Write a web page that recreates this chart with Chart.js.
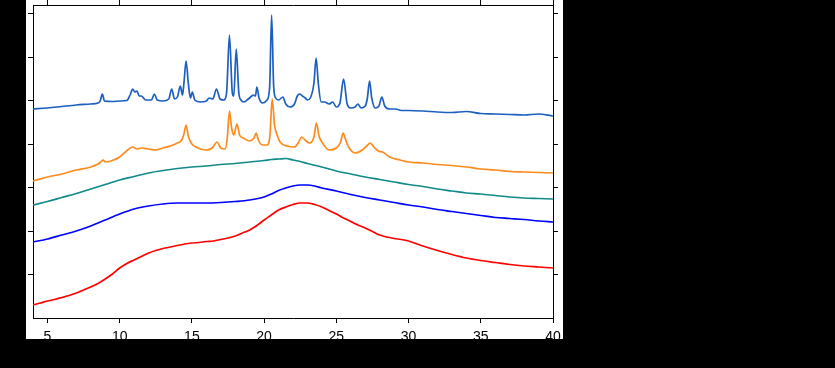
<!DOCTYPE html>
<html>
<head>
<meta charset="utf-8">
<script src="https://cdn.jsdelivr.net/npm/chart.js@4.4.1/dist/chart.umd.min.js"></script>
<style>
  html, body { margin: 0; padding: 0; background: #000; }
  canvas { display: block; }
</style>
</head>
<body>
<canvas id="xrd" width="835" height="368"></canvas>
<script>
// 2-theta (deg) vs intensity (a.u.)
const xTicks = [5, 10, 15, 20, 25, 30, 35, 40];
const yTicks = [43.5, 87, 130.5, 174, 217.5, 261, 304.5];

const redTrace = [[4,13],[4.5,15],[5,17],[5.5,18.5],[6,20.5],[6.5,22.5],[7,25],[7.5,28],[8,31],[8.5,34.5],
  [9,39],[9.5,44],[10,50],[10.5,54.5],[11,58],[11.5,61.5],[12,65],[12.5,67.5],[13,69.5],[13.5,71],
  [14,72.5],[14.5,74],[15,75],[15.5,75.5],[16,76.5],[16.5,77],[17,78.5],[17.5,80],[18,82],[18.5,85],
  [19,88],[19.5,92.5],[20,98],[20.5,103],[21,108],[21.5,111],[22,113.5],[22.5,115],[23,115],[23.5,113.5],
  [24,111],[24.5,107.5],[25,104],[25.5,100],[26,96.5],[26.5,93],[27,90],[27.5,86.5],[28,83],[28.5,81],
  [29,79.5],[29.5,78.5],[30,77],[31,72],[32,67.5],[33,63.5],[34,60],[35,57.5],[36,55.5],[37,53.5],
  [38,52],[39,51],[40,50]];

const blueTrace = [[4,76],[5,79],[6,83],[7,87],[8,92],[9,98],[10,104],[11,109],[12,112],[13,114],
  [14,115],[15,115],[16,115],[17,115.5],[18,116.5],[19,118],[20,121],[20.5,124],[21,127.5],[21.5,130],
  [22,132],[22.5,133],[23,133],[23.5,132],[24,130],[25,127],[26,123.5],[27,120.5],[28,118],[29,115.5],
  [30,113],[31,111],[32,108.5],[33,106.5],[34,104.5],[35,102.5],[36,100.5],[37,99.5],[38,98.5],[39,97],[40,96]];

const tealTrace = [[4,113],[5,116.5],[6,120.5],[7,124.5],[8,129],[9,133.5],[10,138],[11,141.5],[12,145],[13,147.5],
  [14,149.5],[15,151],[16,152],[17,153.5],[18,154.5],[19,156],[20,157.5],[20.5,158.5],[21,159],[21.5,159.5],
  [22,158],[22.5,156.5],[23,154.5],[24,151],[25,147],[26,144],[27,141],[28,138.5],[29,136],[30,133.5],
  [31,131.5],[32,129],[33,127],[34,125],[35,124],[36,122.5],[37,121],[38,120],[39,119.5],[40,119]];

const orangeTrace = [[4,137],[5,141],[6,144],[7,148],[8,151],[8.5,154],[8.7,156],[8.85,158],[9,156],[9.4,157],
  [10,161],[10.4,166],[10.9,171],[11.2,169],[11.5,170],[12,169],[12.5,168],[13,170],[13.5,172],[14,175],
  [14.3,178],[14.45,184],[14.6,193],[14.75,182],[15,174],[15.3,171],[15.6,169],[16,168],[16.4,170],[16.75,176],
  [17,170],[17.3,169],[17.45,180],[17.6,207],[17.75,190],[17.9,183],[18.12,194],[18.3,183],[18.56,180],[19,177],
  [19.3,180],[19.45,185],[19.6,178],[19.9,173],[20.2,173],[20.4,182],[20.56,219],[20.72,193],[20.9,183],[21.1,176],
  [21.6,172],[22.1,171],[22.4,176],[22.6,181],[22.9,177],[23.15,175],[23.45,181],[23.62,195],[23.8,182],[24,176],
  [24.5,168],[25,170],[25.3,176],[25.47,185],[25.65,178],[25.85,171],[26.3,165],[26.8,168],[27.1,172],[27.35,175],
  [27.6,171],[27.9,167],[28.2,166],[28.7,161],[29.4,158],[30,156],[31,155],[32,153.5],[33,152.5],[34,151],
  [35,149],[36,148],[37,146.5],[38,146],[39,145.5],[40,145]];

const crystTrace = [[4,209],[5,210],[6,211.5],[7,213],[8,214],[8.5,215],[8.65,217],[8.8,224],[8.95,217],[9.5,216.5],
  [10,217],[10.5,217.5],[10.75,224],[10.9,229],[11.05,226],[11.2,227],[11.35,222],[11.5,222],[11.8,218],[12.2,218],
  [12.4,224],[12.6,218],[13,217],[13.4,219],[13.6,229],[13.8,219],[14,221],[14.2,232],[14.35,223],[14.45,235],
  [14.6,257],[14.75,235],[14.9,220],[15.03,226],[15.2,218],[15.6,216],[16,217],[16.2,220],[16.45,219],[16.7,229],
  [16.95,219],[17.2,218],[17.4,225],[17.6,283],[17.8,225],[17.9,222],[18.07,269],[18.25,225],[18.4,218],[18.6,216],
  [18.9,219],[19.15,222],[19.25,223],[19.4,222],[19.5,231],[19.65,220],[19.9,215],[20.2,218],[20.38,230],[20.52,303],
  [20.66,232],[20.8,220],[21,218],[21.3,221],[21.5,214],[21.8,211],[22.1,214],[22.3,222],[22.45,224],[22.65,222],
  [22.85,220],[23,218],[23.2,220],[23.45,235],[23.6,260],[23.75,235],[23.95,216],[24.2,216],[24.5,214],[24.75,216],
  [25,211],[25.25,215],[25.5,239],[25.75,214],[26,210],[26.3,211],[26.5,214],[26.7,210],[27,212],[27.15,220],
  [27.3,237],[27.45,220],[27.7,210],[27.95,212],[28.15,221],[28.35,212],[28.7,209],[29.1,209],[29.5,207.5],[30,207.5],
  [31,207],[32,206],[33,205.5],[34,206.5],[35,204.5],[36,204],[37,203.5],[38,203],[39,204],[40,202]];

const series = [
  { data: redTrace, color: "#ff0000" },
  { data: blueTrace, color: "#0000ff" },
  { data: tealTrace, color: "#128a8a" },
  { data: orangeTrace, color: "#ff8a1c" },
  { data: crystTrace, color: "#1c5fbe" }
];

// white panel behind the plot, black borders clip the labels like the original
const panel = {
  id: "panel",
  beforeDraw(chart) {
    const c = chart.ctx;
    c.save();
    c.fillStyle = "#fff";
    c.fillRect(26, 0, 537, 339);
    c.restore();
  },
  afterDraw(chart) {
    const c = chart.ctx;
    c.save();
    c.fillStyle = "#000";
    c.fillRect(0, 339, 835, 29);
    c.fillRect(563, 0, 272, 368);
    c.fillRect(0, 0, 26, 368);
    c.restore();
  }
};

const tickGrid = {
  drawOnChartArea: false,
  drawTicks: true,
  tickLength: 5,
  color: "#000",
  tickColor: "#000",
  lineWidth: 1
};
const axisBorder = { display: true, color: "#000", width: 1 };

new Chart(document.getElementById("xrd"), {
  type: "line",
  data: {
    datasets: series.map(s => ({
      data: s.data.map(p => ({ x: p[0], y: p[1] })),
      borderColor: s.color,
      borderWidth: 1.7,
      pointRadius: 0,
      cubicInterpolationMode: "monotone",
      fill: false
    }))
  },
  plugins: [panel],
  options: {
    responsive: false,
    animation: false,
    layout: { padding: { left: 28, right: 277, top: 0, bottom: 0 } },
    plugins: { legend: { display: false }, tooltip: { enabled: false } },
    scales: {
      x: {
        type: "linear", position: "bottom", min: 4, max: 40,
        afterBuildTicks: s => { s.ticks = xTicks.map(v => ({ value: v })); },
        afterFit: s => { s.height = 50; },
        grid: tickGrid, border: axisBorder,
        ticks: {
          color: "#000", padding: 6, maxRotation: 0,
          font: { family: "'Liberation Sans', Arial, sans-serif", size: 14 }
        }
      },
      x2: {
        type: "linear", position: "top", min: 4, max: 40,
        afterBuildTicks: s => { s.ticks = xTicks.map(v => ({ value: v })); },
        afterFit: s => { s.height = 5; },
        grid: tickGrid, border: axisBorder,
        ticks: { display: false }
      },
      y: {
        type: "linear", position: "left", min: 0, max: 313,
        afterBuildTicks: s => { s.ticks = yTicks.map(v => ({ value: v })); },
        afterFit: s => { s.width = 5; },
        grid: tickGrid, border: axisBorder,
        ticks: { display: false }
      },
      y2: {
        type: "linear", position: "right", min: 0, max: 313,
        afterBuildTicks: s => { s.ticks = yTicks.map(v => ({ value: v })); },
        afterFit: s => { s.width = 5; },
        grid: tickGrid, border: axisBorder,
        ticks: { display: false }
      }
    }
  }
});
</script>
</body>
</html>
